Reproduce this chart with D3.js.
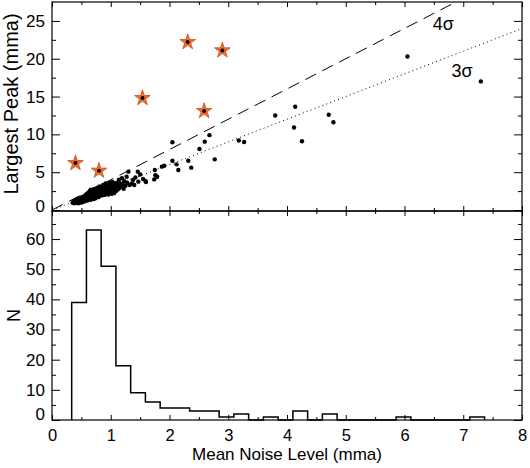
<!DOCTYPE html>
<html>
<head>
<meta charset="utf-8">
<script src="https://cdn.jsdelivr.net/npm/d3@7"></script>
<style>
  body { margin: 0; background: #fff; }
  text { font-family: "Liberation Sans", Arial, Helvetica, sans-serif; fill: #000; }
</style>
</head>
<body>
<svg id="chart" width="530" height="468"></svg>
<script>
// mean noise level vs largest peak (mma), one dot per star
const dots = [
  [0.35,0.95],[0.36,1.1],[0.37,1.0],[0.38,1.2],[0.38,0.9],[0.39,1.05],[0.40,1.3],[0.40,1.1],[0.41,0.95],[0.42,1.2],
  [0.42,1.4],[0.43,1.05],[0.44,1.3],[0.44,1.15],[0.45,1.5],[0.46,1.0],[0.46,1.25],[0.47,1.4],[0.48,1.1],[0.48,1.6],
  [0.49,1.3],[0.50,1.45],[0.50,1.2],[0.51,1.7],[0.52,1.35],[0.52,1.05],[0.53,1.55],[0.54,1.25],[0.54,1.8],[0.55,1.45],
  [0.56,1.15],[0.56,1.65],[0.57,1.9],[0.57,1.35],[0.58,1.55],[0.58,2.05],[0.45,0.9],[0.50,1.0],
  [0.59,1.4],[0.59,1.75],[0.60,2.1],[0.60,1.25],[0.61,1.55],[0.61,1.9],[0.62,1.35],[0.62,2.3],[0.63,1.7],[0.63,2.0],
  [0.64,1.45],[0.64,2.5],[0.65,1.8],[0.65,2.15],[0.66,1.6],[0.66,1.35],[0.67,2.0],[0.67,2.4],[0.68,1.75],[0.68,1.5],
  [0.69,2.2],[0.69,2.65],[0.70,1.9],[0.70,1.6],[0.71,2.35],[0.71,2.05],[0.72,1.7],[0.72,2.8],[0.73,2.2],[0.73,1.85],
  [0.74,2.5],[0.74,1.55],[0.75,2.0],[0.75,2.7],[0.76,2.3],[0.76,1.8],[0.77,2.1],[0.77,2.95],[0.78,1.95],[0.78,2.5],
  [0.79,2.25],[0.79,1.7],[0.80,2.65],[0.80,2.0],[0.81,2.4],[0.81,3.1],[0.82,1.9],[0.82,2.2],[0.83,2.7],[0.83,2.45],
  [0.62,1.6],[0.65,1.95],[0.68,2.05],[0.70,2.5],[0.72,2.0],[0.74,2.2],[0.76,2.6],[0.78,2.3],[0.80,2.85],[0.82,2.55],
  [0.66,2.7],[0.71,1.45],
  [0.84,2.1],[0.84,2.6],[0.85,3.0],[0.85,2.35],[0.86,1.95],[0.86,2.8],[0.87,2.5],[0.87,3.3],[0.88,2.2],[0.88,2.7],
  [0.89,3.05],[0.89,2.0],[0.90,2.45],[0.90,2.9],[0.91,3.5],[0.91,2.3],[0.92,2.65],[0.92,2.1],[0.93,3.1],[0.93,2.5],
  [0.94,2.85],[0.94,2.25],[0.95,3.3],[0.95,2.6],[0.96,2.05],[0.96,3.0],[0.97,2.4],[0.97,2.75],[0.98,3.6],[0.98,2.2],
  [0.99,2.9],[0.99,2.55],[1.00,3.2],[1.00,2.35],[1.01,2.75],[1.01,3.45],[1.02,2.15],[1.02,3.0],[1.03,2.6],[1.03,3.7],
  [1.04,2.4],[1.04,2.9],[1.05,3.3],[1.05,2.7],[1.06,2.25],[1.06,3.1],[1.07,3.5],[1.07,2.55],[1.08,2.85],[1.08,3.2],
  [0.90,2.65],
  [1.09,2.5],[1.10,3.0],[1.11,3.6],[1.12,2.7],[1.13,3.3],[1.14,4.0],[1.15,2.9],[1.16,3.5],[1.18,3.1],[1.19,4.2],
  [1.20,3.4],[1.22,2.8],[1.23,3.8],[1.25,3.2],[1.27,4.4],[1.28,3.6],[1.30,5.07],[1.32,3.3],
  [1.36,3.5],[1.38,4.0],[1.40,3.3],[1.42,4.3],[1.46,5.07],[1.47,3.75],[1.50,4.7],[1.55,4.1],
  [1.59,3.84],[1.60,3.7],[1.74,4.05],[1.75,5.3],[1.76,4.6],[1.79,4.4],
  [1.87,5.73],[1.91,5.86],[2.05,8.95],[2.05,6.52],
  [2.12,6.04],[2.15,5.3],[2.32,6.52],
  [2.37,5.6],[2.51,8.07],
  [2.60,9.04],[2.68,9.9],[2.77,6.7],
  [3.18,9.2],[3.27,9.0],
  [3.80,12.5],
  [4.12,10.9],[4.14,13.66],[4.255,9.1],
  [4.71,12.6],[4.79,11.6],
  [6.05,20.3],
  [7.30,17.0]
];

// highlighted objects (stars)
const starNoise = [0.40, 0.80, 1.54, 2.31, 2.90, 2.59];
const starPeak  = [6.2, 5.2, 14.8, 22.2, 21.1, 13.1];

// threshold lines, peak = k * noise
const sigmaK = [4, 3];
const sigmaLabels = ["4σ", "3σ"];
const sigmaLabelPos = [[6.48, 23.8], [6.8, 17.6]];

// histogram of mean noise level
const binStart = 0.335;
const binWidth = 0.251;
const histCounts = [39, 63, 51, 18, 9, 6, 4, 4, 3, 3, 1, 2, 0, 1, 0, 3, 0, 2, 0, 0, 0, 0, 1, 0, 0, 0, 0, 1];

const xTicks = [0, 1, 2, 3, 4, 5, 6, 7, 8];
const xMinor = [0.5, 1.5, 2.5, 3.5, 4.5, 5.5, 6.5, 7.5];
const peakTicks = [0, 5, 10, 15, 20, 25];
const peakMinor = [2.5, 7.5, 12.5, 17.5, 22.5];
const nTicks = [0, 10, 20, 30, 40, 50, 60];
const nMinor = [5, 15, 25, 35, 45, 55, 65];

const svg = d3.select("#chart");
const left = 52, right = 522, top1 = 2, mid = 211, bottom = 420;

const x = d3.scaleLinear().domain([0, 8]).range([left, right]);
const yTop = d3.scaleLinear().domain([-0.13, 27.5]).range([mid, top1]);
const yBot = d3.scaleLinear().domain([0, 69.3]).range([bottom, mid]);

const clean = g => {
  g.select(".domain").remove();
  g.selectAll("line").attr("stroke", "#000").attr("stroke-width", 1);
  g.selectAll("text").attr("font-size", 17).attr("font-family", null);
};

const panelAxes = (y, y0, y1, major, minor, zeroNudge, labelX) => {
  svg.append("g").attr("transform", `translate(${left},0)`)
     .call(d3.axisLeft(y).tickValues(major).tickSize(-8).tickPadding(7))
     .call(clean)
     .selectAll("text").attr("dy", d => d === 0 ? zeroNudge : "0.32em");
  svg.append("g").attr("transform", `translate(${left},0)`)
     .call(d3.axisLeft(y).tickValues(minor).tickSize(-4).tickFormat(""))
     .call(clean);
  svg.append("g").attr("transform", `translate(${right},0)`)
     .call(d3.axisRight(y).tickValues(major).tickSize(-8).tickFormat(""))
     .call(clean);
  svg.append("g").attr("transform", `translate(${right},0)`)
     .call(d3.axisRight(y).tickValues(minor).tickSize(-4).tickFormat(""))
     .call(clean);
  svg.append("g").attr("transform", `translate(0,${y0})`)
     .call(d3.axisTop(x).tickValues(xTicks).tickSize(-5).tickFormat(""))
     .call(clean);
  svg.append("g").attr("transform", `translate(0,${y0})`)
     .call(d3.axisTop(x).tickValues(xMinor).tickSize(-3).tickFormat(""))
     .call(clean);
  svg.append("g").attr("transform", `translate(0,${y1})`)
     .call(d3.axisBottom(x).tickValues(xTicks).tickSize(-5).tickPadding(9).tickFormat(labelX ? d3.format("d") : ""))
     .call(clean)
     .selectAll("text").attr("font-size", 16.5);
  svg.append("g").attr("transform", `translate(0,${y1})`)
     .call(d3.axisBottom(x).tickValues(xMinor).tickSize(-3).tickFormat(""))
     .call(clean);
};

svg.append("clipPath").attr("id", "clipTop")
   .append("rect").attr("x", left).attr("y", top1).attr("width", right - left).attr("height", mid - top1);

// threshold lines
svg.append("g").attr("clip-path", "url(#clipTop)")
   .selectAll("line").data(sigmaK).join("line")
   .attr("x1", x(0)).attr("y1", yTop(0))
   .attr("x2", x(8)).attr("y2", k => yTop(8 * k))
   .attr("stroke", "#000").attr("stroke-width", 1)
   .attr("stroke-dasharray", k => k === 4 ? "12,7" : "1,3.2");

svg.selectAll(".sig").data(sigmaLabels).join("text")
   .attr("class", "sig")
   .attr("x", (d, i) => x(sigmaLabelPos[i][0]))
   .attr("y", (d, i) => yTop(sigmaLabelPos[i][1]))
   .attr("font-size", 18)
   .text(d => d);

// scatter
svg.append("g").selectAll("circle").data(dots).join("circle")
   .attr("cx", d => x(d[0])).attr("cy", d => yTop(d[1]))
   .attr("r", 2.2).attr("fill", "#000");

const star = d3.symbol().type(d3.symbolStar).size(76);
const sg = svg.append("g").selectAll("g").data(starNoise).join("g")
   .attr("transform", (d, i) => `translate(${x(d)},${yTop(starPeak[i])})`);
sg.append("path").attr("d", star).attr("fill", "#ef6f2c").attr("stroke", "#c94a18").attr("stroke-width", 0.8);
sg.append("circle").attr("r", 2).attr("fill", "#000");

// histogram step outline
const pts = [[binStart, 0]];
histCounts.forEach((c, i) => {
  pts.push([binStart + i * binWidth, c]);
  pts.push([binStart + (i + 1) * binWidth, c]);
});
pts.push([binStart + histCounts.length * binWidth, 0]);
svg.append("path")
   .attr("d", d3.line().x(d => x(d[0])).y(d => yBot(d[1]))(pts))
   .attr("fill", "none").attr("stroke", "#000").attr("stroke-width", 1.5);

panelAxes(yTop, top1, mid, peakTicks, peakMinor, "0.1em", false);
panelAxes(yBot, mid, bottom, nTicks, nMinor, "-0.05em", true);

// frames
[[top1, mid], [mid, bottom]].forEach(([a, b]) => {
  svg.append("rect").attr("x", left).attr("y", a).attr("width", right - left).attr("height", b - a)
     .attr("fill", "none").attr("stroke", "#000").attr("stroke-width", 1.2);
});

svg.append("text").attr("x", (left + right) / 2).attr("y", 460)
   .attr("text-anchor", "middle").attr("font-size", 17).text("Mean Noise Level (mma)");
svg.append("text").attr("transform", `translate(18,104) rotate(-90)`)
   .attr("text-anchor", "middle").attr("font-size", 20).text("Largest Peak (mma)");
svg.append("text").attr("transform", `translate(20,${(mid + bottom) / 2}) rotate(-90)`)
   .attr("text-anchor", "middle").attr("font-size", 18).text("N");
</script>
</body>
</html>
